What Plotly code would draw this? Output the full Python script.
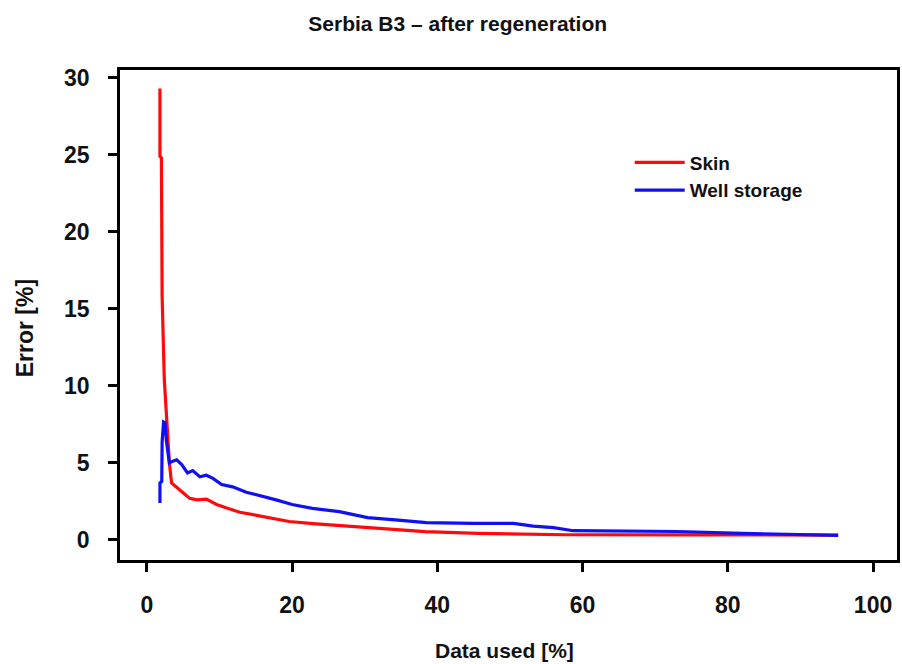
import plotly.graph_objects as go

# Skin (red) error curve
skin_x = [1.8, 1.8, 2.0, 2.1, 2.4, 2.6, 2.9, 3.1, 3.4, 4.1, 4.9, 5.9, 6.9, 8.2, 9.6,
          11.0, 12.8, 15.1, 17.3, 19.6, 23.3, 28.2, 33.1, 38.3, 45.6, 52.7, 57.6,
          73.0, 95.2]
skin_y = [29.3, 24.9, 24.8, 15.8, 10.4, 8.9, 7.3, 5.0, 3.7, 3.45, 3.1, 2.7, 2.6, 2.65, 2.3,
          2.07, 1.8, 1.6, 1.4, 1.2, 1.04, 0.86, 0.69, 0.54, 0.43, 0.37, 0.34,
          0.33, 0.32]

# Well storage (blue) error curve
well_x = [1.8, 1.8, 2.05, 2.1, 2.3, 2.5, 2.7, 3.1, 3.5, 4.1, 4.8, 5.6, 6.3, 7.3, 8.2,
          9.1, 10.3, 11.8, 13.7, 15.5, 17.8, 20.0, 22.8, 26.5, 30.4, 34.2, 38.5,
          45.0, 50.5, 53.2, 56.0, 58.7, 73.0, 82.0, 90.8, 95.2]
well_y = [2.4, 3.7, 3.8, 6.35, 7.65, 7.6, 6.4, 5.0, 5.1, 5.2, 4.9, 4.35, 4.5, 4.1, 4.2,
          4.0, 3.6, 3.45, 3.1, 2.9, 2.6, 2.3, 2.05, 1.84, 1.45, 1.3, 1.12,
          1.08, 1.08, 0.9, 0.8, 0.6, 0.55, 0.43, 0.32, 0.3]

x_ticks = [0, 20, 40, 60, 80, 100]
y_ticks = [0, 5, 10, 15, 20, 25, 30]

FONT = "Liberation Sans, Arial, sans-serif"
INK = "#111111"

fig = go.Figure()
fig.add_trace(go.Scatter(x=skin_x, y=skin_y, mode="lines", name="Skin",
                         line=dict(color="#ff0a0a", width=3.2)))
fig.add_trace(go.Scatter(x=well_x, y=well_y, mode="lines", name="Well storage",
                         line=dict(color="#1010f5", width=3.2)))

axis_common = dict(showline=True, linecolor="black", linewidth=2.5, mirror=True,
                   ticks="outside", ticklen=9, tickwidth=2.5, tickcolor="black",
                   showgrid=False, zeroline=False,
                   tickfont=dict(family=FONT, size=23, color=INK, weight="bold"))

fig.update_xaxes(range=[-3.7, 103.3], tickvals=x_ticks, ticklabelstandoff=14,
                 **axis_common)
fig.update_yaxes(range=[-1.3, 30.5], tickvals=y_ticks, ticklabelstandoff=14,
                 **axis_common)

fig.update_layout(
    width=902, height=664,
    margin=dict(l=120, r=2, t=70, b=104),
    paper_bgcolor="white", plot_bgcolor="white",
    font=dict(family=FONT, color=INK),
    title=dict(text="<b>Serbia B3 – after regeneration</b>", x=0.4346, xref="paper",
               xanchor="center", y=0.965, yanchor="middle",
               font=dict(family=FONT, size=21, color=INK)),
    showlegend=True,
    legend=dict(x=0.656, y=0.85, xanchor="left", yanchor="top",
                bgcolor="rgba(0,0,0,0)", borderwidth=0, itemwidth=50,
                tracegroupgap=0,
                font=dict(family=FONT, size=19, color=INK, weight="bold")),
    annotations=[
        dict(text="<b>Error [%]</b>", x=-0.1218, y=0.4735, xref="paper", yref="paper",
             xanchor="center", yanchor="middle", textangle=-90, showarrow=False,
             font=dict(family=FONT, size=23, color=INK)),
        dict(text="<b>Data used [%]</b>", x=0.495, y=-0.1837, xref="paper", yref="paper",
             xanchor="center", yanchor="middle", showarrow=False,
             font=dict(family=FONT, size=21, color=INK)),
    ],
)

fig.write_html("out.html")
